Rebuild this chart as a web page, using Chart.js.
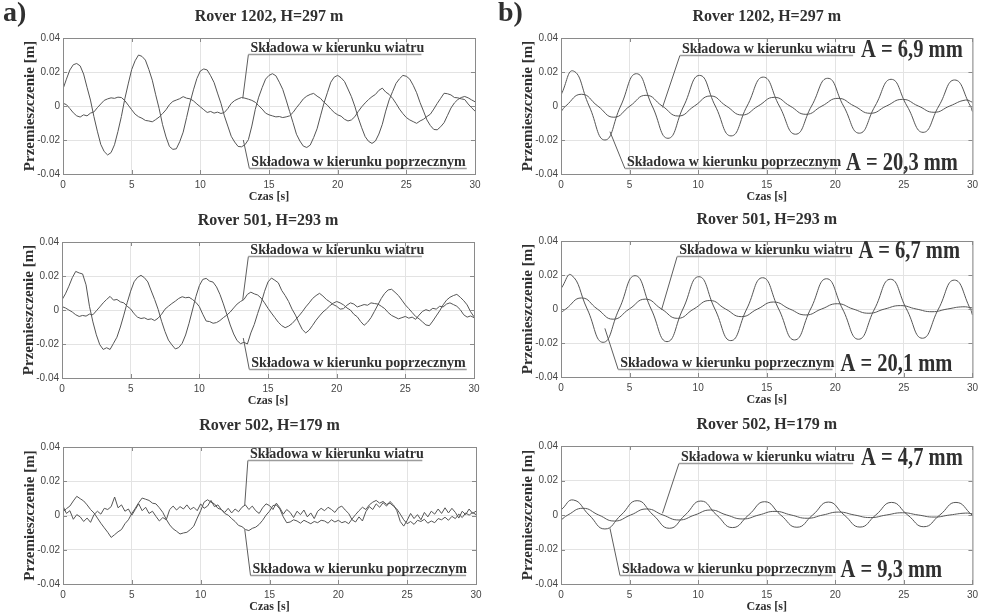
<!DOCTYPE html>
<html>
<head>
<meta charset="utf-8">
<script src="https://cdn.jsdelivr.net/npm/chart.js@4.4.1/dist/chart.umd.min.js"></script>
<style>
  body { margin: 0; background: #fff; width: 983px; height: 614px; position: relative; overflow: hidden; }
  canvas { position: absolute; }
</style>
</head>
<body>
<canvas id="a1"></canvas>
<canvas id="b1"></canvas>
<canvas id="a2"></canvas>
<canvas id="b2"></canvas>
<canvas id="a3"></canvas>
<canvas id="b3"></canvas>
<script>
// axes
const X_TICKS = [0, 5, 10, 15, 20, 25, 30];
const Y_TICKS = [-0.04, -0.02, 0, 0.02, 0.04];
const Y_TICK_LABELS = ['-0.04', '-0.02', '0', '0.02', '0.04'];
const STEP = 0.25; // sampling of the measured records [s]

// a) measured GPS records, one value every STEP seconds
const rover1202Cross = [
  0.0100, 0.0158, 0.0212, 0.0243, 0.0250, 0.0236, 0.0188, 0.0110,
  0.0035, -0.0062, -0.0148, -0.0226, -0.0268, -0.0288, -0.0274, -0.0228,
  -0.0150, -0.0062, 0.0042, 0.0130, 0.0214, 0.0266, 0.0300, 0.0292,
  0.0270, 0.0215, 0.0152, 0.0066, -0.0015, -0.0110, -0.0182, -0.0238,
  -0.0255, -0.0252, -0.0210, -0.0154, -0.0068, 0.0020, 0.0095, 0.0162,
  0.0206, 0.0218, 0.0212, 0.0178, 0.0138, 0.0076, 0.0016, -0.0058,
  -0.0118, -0.0178, -0.0212, -0.0238, -0.0240, -0.0228, -0.0198, -0.0118,
  -0.0020, 0.0052, 0.0108, 0.0158, 0.0180, 0.0190, 0.0178, 0.0140,
  0.0098, 0.0035, -0.0032, -0.0098, -0.0166, -0.0206, -0.0236, -0.0244,
  -0.0230, -0.0186, -0.0134, -0.0058, 0.0016, 0.0078, 0.0140, 0.0170,
  0.0180, 0.0166, 0.0144, 0.0100, 0.0055, -0.0002, -0.0070, -0.0128,
  -0.0180, -0.0208, -0.0220, -0.0206, -0.0165, -0.0108, -0.0030, 0.0036,
  0.0085, 0.0133, 0.0160, 0.0180, 0.0175, 0.0158, 0.0122, 0.0078,
  0.0020, -0.0030, -0.0082, -0.0115, -0.0138, -0.0140, -0.0122, -0.0098,
  -0.0055, -0.0012, 0.0018, 0.0038, 0.0050, 0.0056, 0.0048, 0.0036,
  0.0025
];
const rover1202Wind = [
  0.0016, 0.0008, -0.0015, -0.0040, -0.0058, -0.0065, -0.0052, -0.0058,
  -0.0042, -0.0035, -0.0010, 0.0012, 0.0033, 0.0042, 0.0048, 0.0045,
  0.0052, 0.0050, 0.0032, 0.0005, -0.0022, -0.0048, -0.0063, -0.0072,
  -0.0085, -0.0088, -0.0093, -0.0080, -0.0065, -0.0045, -0.0022, 0.0008,
  0.0027, 0.0035, 0.0043, 0.0055, 0.0046, 0.0042, 0.0030, 0.0012,
  -0.0005, -0.0022, -0.0038, -0.0032, -0.0042, -0.0036, -0.0044, -0.0038,
  -0.0015, 0.0015, 0.0032, 0.0042, 0.0050, 0.0046, 0.0040, 0.0033,
  0.0022, 0.0002, -0.0018, -0.0042, -0.0052, -0.0058, -0.0064, -0.0062,
  -0.0068, -0.0064, -0.0058, -0.0038, -0.0010, 0.0015, 0.0042, 0.0058,
  0.0068, 0.0074, 0.0058, 0.0045, 0.0022, 0.0005, -0.0018, -0.0038,
  -0.0052, -0.0060, -0.0078, -0.0088, -0.0082, -0.0063, -0.0032, -0.0005,
  0.0018, 0.0038, 0.0055, 0.0068, 0.0092, 0.0105, 0.0082, 0.0068,
  0.0045, 0.0015, -0.0018, -0.0045, -0.0068, -0.0082, -0.0092, -0.0102,
  -0.0088, -0.0078, -0.0062, -0.0048, -0.0018, 0.0015, 0.0045, 0.0075,
  0.0072, 0.0065, 0.0050, 0.0048, 0.0042, 0.0038, 0.0012, -0.0010,
  -0.0030
];
const rover501Cross = [
  0.0060, 0.0095, 0.0140, 0.0190, 0.0227, 0.0218, 0.0212, 0.0148,
  0.0022, -0.0070, -0.0146, -0.0204, -0.0232, -0.0222, -0.0232, -0.0196,
  -0.0160, -0.0100, -0.0030, 0.0044, 0.0111, 0.0166, 0.0192, 0.0204,
  0.0190, 0.0165, 0.0112, 0.0061, 0.0004, -0.0066, -0.0127, -0.0177,
  -0.0205, -0.0229, -0.0221, -0.0196, -0.0147, -0.0078, 0.0000, 0.0079,
  0.0143, 0.0180, 0.0186, 0.0170, 0.0164, 0.0136, 0.0092, 0.0036,
  -0.0026, -0.0088, -0.0141, -0.0180, -0.0198, -0.0190, -0.0200, -0.0135,
  -0.0085, -0.0020, 0.0040, 0.0110, 0.0165, 0.0188, 0.0175, 0.0160,
  0.0115, 0.0085, 0.0050, 0.0005, -0.0030, -0.0075, -0.0115, -0.0135,
  -0.0118, -0.0090, -0.0060, -0.0035, -0.0012, 0.0005, 0.0025, 0.0040,
  0.0050, 0.0042, 0.0030, 0.0012, 0.0000, -0.0025, -0.0040, -0.0068,
  -0.0090, -0.0072, -0.0045, -0.0008, 0.0030, 0.0068, 0.0098, 0.0118,
  0.0122, 0.0104, 0.0085, 0.0058, 0.0030, 0.0008, -0.0015, -0.0038,
  -0.0052, -0.0070, -0.0088, -0.0092, -0.0065, -0.0035, -0.0005, 0.0030,
  0.0058, 0.0075, 0.0085, 0.0092, 0.0075, 0.0055, 0.0030, -0.0010,
  -0.0040
];
const rover501Wind = [
  0.0020, 0.0012, 0.0000, -0.0012, -0.0028, -0.0038, -0.0032, -0.0036,
  -0.0024, -0.0028, -0.0005, 0.0018, 0.0042, 0.0062, 0.0080, 0.0058,
  0.0062, 0.0048, 0.0042, 0.0022, 0.0006, -0.0022, -0.0042, -0.0050,
  -0.0046, -0.0056, -0.0052, -0.0062, -0.0048, -0.0025, 0.0005, 0.0022,
  0.0038, 0.0052, 0.0068, 0.0078, 0.0072, 0.0075, 0.0062, 0.0045,
  0.0020, -0.0025, -0.0065, -0.0068, -0.0078, -0.0074, -0.0062, -0.0045,
  -0.0030, -0.0012, 0.0012, 0.0035, 0.0050, 0.0062, 0.0092, 0.0105,
  0.0095, 0.0088, 0.0070, 0.0042, 0.0010, -0.0018, -0.0045, -0.0072,
  -0.0092, -0.0104, -0.0095, -0.0080, -0.0058, -0.0035, -0.0010, 0.0018,
  0.0042, 0.0068, 0.0085, 0.0098, 0.0082, 0.0062, 0.0048, 0.0032,
  0.0022, 0.0005, 0.0008, 0.0028, 0.0042, 0.0035, 0.0018, 0.0025,
  0.0032, 0.0028, 0.0042, 0.0038, 0.0035, 0.0022, 0.0008, -0.0015,
  -0.0032, -0.0042, -0.0052, -0.0045, -0.0038, -0.0048, -0.0042, -0.0055,
  -0.0030, -0.0008, 0.0002, -0.0005, 0.0010, 0.0005, 0.0022, 0.0018,
  0.0035, 0.0042, 0.0032, 0.0022, 0.0002, -0.0028, -0.0042, -0.0035,
  -0.0045
];
const rover502Cross = [
  0.0020, 0.0040, 0.0055, 0.0085, 0.0112, 0.0098, 0.0085, 0.0062,
  0.0035, 0.0015, -0.0015, -0.0045, -0.0072, -0.0098, -0.0128, -0.0112,
  -0.0095, -0.0082, -0.0048, -0.0025, 0.0012, 0.0042, 0.0075, 0.0102,
  0.0095, 0.0088, 0.0072, 0.0068, 0.0045, 0.0018, -0.0022, -0.0055,
  -0.0078, -0.0092, -0.0108, -0.0102, -0.0098, -0.0082, -0.0062, -0.0015,
  0.0028, 0.0078, 0.0092, 0.0078, 0.0068, 0.0042, 0.0035, 0.0012,
  0.0002, -0.0018, -0.0035, -0.0058, -0.0065, -0.0082, -0.0088, -0.0075,
  -0.0068, -0.0052, -0.0028, 0.0002, 0.0025, 0.0058, 0.0062, 0.0038,
  -0.0008, -0.0042, -0.0038, -0.0025, -0.0032, -0.0045, -0.0028, -0.0038,
  -0.0048, -0.0035, -0.0042, -0.0028, -0.0032, -0.0045, -0.0025, -0.0038,
  -0.0028, -0.0042, -0.0035, -0.0048, -0.0020, 0.0005, 0.0028, 0.0048,
  0.0035, 0.0062, 0.0078, 0.0088, 0.0072, 0.0082, 0.0065, 0.0072,
  0.0055, 0.0038, 0.0008, -0.0025, -0.0048, -0.0035, -0.0052, -0.0028,
  -0.0035, -0.0022, -0.0045, -0.0032, -0.0042, -0.0018, -0.0025, -0.0010,
  -0.0028, -0.0005, -0.0018, 0.0008, -0.0012, 0.0015, 0.0002, 0.0018,
  0.0005
];
const rover502Wind = [
  0.0055, 0.0012, 0.0028, -0.0022, 0.0005, -0.0008, -0.0035, -0.0015,
  -0.0040, 0.0005, 0.0025, 0.0008, 0.0042, 0.0035, 0.0052, 0.0108,
  0.0045, 0.0062, 0.0025, 0.0038, 0.0002, 0.0035, 0.0068, 0.0028,
  0.0048, 0.0012, 0.0025, -0.0005, -0.0032, -0.0012, -0.0025, 0.0035,
  0.0055, 0.0032, 0.0052, 0.0038, 0.0062, 0.0035, 0.0048, 0.0028,
  0.0068, 0.0042, 0.0055, 0.0088, 0.0052, 0.0062, 0.0035, 0.0018,
  0.0042, 0.0015, 0.0038, 0.0022, 0.0048, 0.0062, 0.0035, 0.0055,
  0.0028, 0.0012, 0.0045, 0.0068, 0.0058, 0.0035, 0.0072, 0.0045,
  0.0008, 0.0035, 0.0018, -0.0012, 0.0025, 0.0005, 0.0032, -0.0008,
  0.0015, -0.0018, 0.0025, 0.0042, 0.0028, 0.0048, 0.0035, 0.0018,
  0.0045, 0.0055, 0.0032, 0.0012, -0.0025, -0.0038, -0.0008, -0.0032,
  0.0022, 0.0052, 0.0035, 0.0068, 0.0048, 0.0075, 0.0055, 0.0082,
  0.0062, 0.0028, -0.0035, -0.0062, -0.0028, 0.0012, -0.0018, 0.0005,
  -0.0025, 0.0018, -0.0008, 0.0025, 0.0008, 0.0038, 0.0012, 0.0045,
  0.0015, 0.0042, 0.0018, -0.0015, 0.0025, 0.0005, 0.0038, 0.0012,
  0.0025
];

// b) fitted harmonic components: times [s] of extrema and zero crossings, values [m]
const fit1202CrossT = [0, 0.9, 2.05, 3.2, 4.35, 5.5, 6.65, 7.8, 8.95, 10.1, 11.25, 12.4, 13.57, 14.75, 15.92, 17.1, 18.27, 19.45, 20.6, 21.75, 22.9, 24.07, 25.23, 26.4, 27.55, 28.7, 29.85, 30];
const fit1202Cross = [0.0065, 0.0206, 0, -0.0200, 0, 0.0190, 0, -0.0190, 0, 0.0180, 0, -0.0176, 0, 0.0170, 0, -0.0166, 0, 0.0163, 0, -0.0160, 0, 0.0157, 0, -0.0155, 0, 0.0153, 0, -0.0033];
const fit1202WindT = [0, 0.35, 1.5, 2.68, 3.85, 5.03, 6.2, 7.38, 8.55, 9.73, 10.9, 12.05, 13.2, 14.38, 15.55, 16.7, 17.85, 19.03, 20.2, 21.38, 22.55, 23.73, 24.9, 26.05, 27.2, 28.35, 29.5, 30];
const fit1202Wind = [-0.0033, 0, 0.0069, 0, -0.0066, 0, 0.0063, 0, -0.0059, 0, 0.0059, 0, -0.0053, 0, 0.0051, 0, -0.0049, 0, 0.0045, 0, -0.0043, 0, 0.0039, 0, -0.0037, 0, 0.0035, 0.0022];
const fit501CrossT = [0, 0.75, 1.91, 3.07, 4.24, 5.4, 6.57, 7.73, 8.89, 10.05, 11.22, 12.38, 13.54, 14.7, 15.87, 17.03, 18.2, 19.36, 20.53, 21.69, 22.86, 24.02, 25.19, 26.35, 27.52, 28.68, 29.85, 30];
const fit501Cross = [0.0120, 0.0200, 0, -0.0196, 0, 0.0196, 0, -0.0192, 0, 0.0190, 0, -0.0186, 0, 0.0184, 0, -0.0182, 0, 0.0178, 0, -0.0178, 0, 0.0175, 0, -0.0172, 0, 0.0170, 0, -0.0035];
const fit501WindT = [0, 0.35, 1.5, 2.65, 3.8, 4.98, 6.15, 7.33, 8.5, 9.68, 10.85, 12.0, 13.15, 14.33, 15.5, 16.68, 17.85, 19.0, 20.15, 21.3, 22.45, 23.6, 24.75, 25.9, 27.05, 28.18, 29.3, 30];
const fit501Wind = [-0.0022, 0, 0.0065, 0, -0.0060, 0, 0.0058, 0, -0.0055, 0, 0.0050, 0, -0.0045, 0, 0.0041, 0, -0.0035, 0, 0.0031, 0, -0.0025, 0, 0.0020, 0, -0.0016, 0, 0.0013, 0.0006];
const fit502CrossT = [0, 0.9, 2.05, 3.2, 4.38, 5.55, 6.72, 7.9, 9.05, 10.2, 11.35, 12.5, 13.68, 14.85, 16.02, 17.2, 18.35, 19.5, 20.65, 21.8, 22.95, 24.1, 25.28, 26.45, 27.62, 28.8, 30];
const fit502Cross = [0.0029, 0.0087, 0, -0.0081, 0, 0.0083, 0, -0.0077, 0, 0.0081, 0, -0.0073, 0, 0.0077, 0, -0.0071, 0, 0.0075, 0, -0.0070, 0, 0.0073, 0, -0.0068, 0, 0.0073, -0.0002];
const fit502WindT = [0, 0.5, 1.6, 2.75, 3.9, 5.08, 6.25, 7.43, 8.6, 9.75, 10.9, 12.08, 13.25, 14.43, 15.6, 16.78, 17.95, 19.1, 20.25, 21.4, 22.55, 23.73, 24.9, 26.05, 27.2, 28.35, 29.5, 30];
const fit502Wind = [-0.0029, 0, 0.0039, 0, -0.0035, 0, 0.0035, 0, -0.0029, 0, 0.0029, 0, -0.0023, 0, 0.0021, 0, -0.0019, 0, 0.0017, 0, -0.0015, 0, 0.0013, 0, -0.0012, 0, 0.0011, 0.0007];

const WIND_LABEL = 'Składowa w kierunku wiatru';
const CROSS_LABEL = 'Składowa w kierunku poprzecznym';

const SERIF = '"Liberation Serif", "Times New Roman", serif';
const SANS = '"Liberation Sans", Arial, sans-serif';
const INK = '#303030';
const LINE = '#555555';
const Y_AXIS_W = 40;

const measured = values => values.map((v, i) => ({ x: i * STEP, y: v }));
const fitted = (times, values) => times.map((t, i) => ({ x: t, y: values[i] }));

// leader notes: tip on the curve, knee where the underline starts, end of underline (all in data units)
const panels = [
  { id: 'a1', left: 0, top: 0, width: 490, height: 205, area: { left: 63, top: 38, right: 475, bottom: 174 },
    tag: 'a)', title: 'Rover 1202, H=297 m', smooth: 0,
    series: [measured(rover1202Cross), measured(rover1202Wind)],
    wind: { tip: [13.09, 0.0045], knee: [13.5, 0.0306], end: 26.1 },
    cross: { tip: [13.13, -0.020], knee: [13.57, -0.0367], end: 29.4 } },
  { id: 'b1', left: 490, top: 0, width: 493, height: 205, area: { left: 71, top: 38, right: 483, bottom: 174 },
    tag: 'b)', title: 'Rover 1202, H=297 m', smooth: 0.5,
    series: [fitted(fit1202CrossT, fit1202Cross), fitted(fit1202WindT, fit1202Wind)],
    wind: { tip: [7.4, -0.0008], knee: [8.67, 0.030], end: 21.3, amp: 'A = 6,9 mm' },
    cross: { tip: [3.57, -0.0151], knee: [4.66, -0.0367], end: 20.2, amp: 'A = 20,3 mm' } },
  { id: 'a2', left: 0, top: 205, width: 490, height: 205, area: { left: 62, top: 37, right: 474, bottom: 173 },
    title: 'Rover 501, H=293 m', smooth: 0,
    series: [measured(rover501Cross), measured(rover501Wind)],
    wind: { tip: [13.16, 0.006], knee: [13.57, 0.0318], end: 26.2 },
    cross: { tip: [13.2, -0.0165], knee: [13.64, -0.0349], end: 29.47 } },
  { id: 'b2', left: 490, top: 205, width: 493, height: 205, area: { left: 71, top: 36, right: 483, bottom: 172 },
    title: 'Rover 501, H=293 m', smooth: 0.5,
    series: [fitted(fit501CrossT, fit501Cross), fitted(fit501WindT, fit501Wind)],
    wind: { tip: [7.33, -0.0005], knee: [8.47, 0.0312], end: 21.1, amp: 'A = 6,7 mm' },
    cross: { tip: [3.2, -0.0114], knee: [4.17, -0.0355], end: 19.8, amp: 'A = 20,1 mm' } },
  { id: 'a3', left: 0, top: 410, width: 490, height: 204, area: { left: 63, top: 37, right: 476, bottom: 174 },
    title: 'Rover 502, H=179 m', smooth: 0,
    series: [measured(rover502Cross), measured(rover502Wind)],
    wind: { tip: [13.2, 0.0061], knee: [13.43, 0.0324], end: 26.1 },
    cross: { tip: [13.2, -0.0081], knee: [13.62, -0.0347], end: 29.28 } },
  { id: 'b3', left: 490, top: 410, width: 493, height: 204, area: { left: 71, top: 36, right: 483, bottom: 174 },
    title: 'Rover 502, H=179 m', smooth: 0.5,
    series: [fitted(fit502CrossT, fit502Cross), fitted(fit502WindT, fit502Wind)],
    wind: { tip: [7.4, 0.001], knee: [8.6, 0.030], end: 21.3, amp: 'A = 4,7 mm' },
    cross: { tip: [3.57, -0.0077], knee: [4.3, -0.0348], end: 19.8, amp: 'A = 9,3 mm' } }
];

function drawNote(ctx, x, y, note, label) {
  const tx = x.getPixelForValue(note.tip[0]), ty = y.getPixelForValue(note.tip[1]);
  const kx = x.getPixelForValue(note.knee[0]), ky = Math.round(y.getPixelForValue(note.knee[1])) + 0.5;
  const ex = x.getPixelForValue(note.end);
  ctx.strokeStyle = '#5e5e5e';
  ctx.lineWidth = 1;
  ctx.beginPath(); ctx.moveTo(tx, ty); ctx.lineTo(kx, ky); ctx.stroke();
  ctx.strokeStyle = '#9c9c9c';
  ctx.lineWidth = 1.6;
  ctx.beginPath(); ctx.moveTo(kx, ky); ctx.lineTo(ex, ky); ctx.stroke();
  ctx.fillStyle = INK;
  ctx.textAlign = 'left';
  ctx.textBaseline = 'alphabetic';
  ctx.font = 'bold 14px ' + SERIF;
  ctx.fillText(label, kx + 2, ky - 3);
  if (note.amp) {
    ctx.save();
    ctx.translate(ex + 8, ky + 1);
    ctx.scale(0.82, 1);
    ctx.font = 'bold 25px ' + SERIF;
    ctx.fillText(note.amp, 0, 0);
    ctx.restore();
  }
}

const figurePlugin = {
  id: 'figure',
  afterDatasetsDraw(chart, args, opts) {
    const p = opts.panel;
    const { ctx, chartArea: a, scales: { x, y } } = chart;
    ctx.save();
    // frame and inward ticks
    ctx.strokeStyle = '#8a8a8a';
    ctx.lineWidth = 1;
    ctx.strokeRect(a.left + 0.5, a.top + 0.5, a.right - a.left, a.bottom - a.top);
    ctx.beginPath();
    X_TICKS.forEach(v => {
      const px = Math.round(x.getPixelForValue(v)) + 0.5;
      ctx.moveTo(px, a.bottom); ctx.lineTo(px, a.bottom - 4);
      ctx.moveTo(px, a.top); ctx.lineTo(px, a.top + 4);
    });
    Y_TICKS.forEach(v => {
      const py = Math.round(y.getPixelForValue(v)) + 0.5;
      ctx.moveTo(a.left, py); ctx.lineTo(a.left + 4, py);
      ctx.moveTo(a.right, py); ctx.lineTo(a.right - 4, py);
    });
    ctx.stroke();

    drawNote(ctx, x, y, p.wind, WIND_LABEL);
    drawNote(ctx, x, y, p.cross, CROSS_LABEL);

    // titles
    const mid = (a.left + a.right) / 2;
    ctx.fillStyle = INK;
    ctx.textAlign = 'center';
    ctx.textBaseline = 'alphabetic';
    ctx.font = 'bold 16px ' + SERIF;
    ctx.fillText(p.title, mid, a.top - 17);
    ctx.font = 'bold 12px ' + SERIF;
    ctx.textBaseline = 'middle';
    ctx.fillText('Czas [s]', mid, a.bottom + 23);
    ctx.save();
    ctx.translate(a.left - 33, (a.top + a.bottom) / 2);
    ctx.rotate(-Math.PI / 2);
    ctx.font = 'bold 15px ' + SERIF;
    ctx.fillText('Przemieszczenie [m]', 0, 0);
    ctx.restore();
    if (p.tag) {
      ctx.textAlign = 'left';
      ctx.textBaseline = 'alphabetic';
      ctx.font = 'bold 28px ' + SERIF;
      ctx.fillText(p.tag, p.left === 0 ? 3 : 8, 21);
    }
    ctx.restore();
  }
};

panels.forEach(p => {
  const canvas = document.getElementById(p.id);
  canvas.width = p.width;
  canvas.height = p.height;
  canvas.style.left = p.left + 'px';
  canvas.style.top = p.top + 'px';
  new Chart(canvas, {
    type: 'line',
    data: {
      datasets: p.series.map(points => ({
        data: points,
        borderColor: LINE,
        borderWidth: 1,
        pointRadius: 0,
        fill: false,
        tension: p.smooth
      }))
    },
    options: {
      responsive: false,
      animation: false,
      devicePixelRatio: 1,
      layout: { padding: { left: p.area.left - Y_AXIS_W, top: p.area.top, right: p.width - p.area.right, bottom: 0 } },
      plugins: {
        legend: { display: false },
        tooltip: { enabled: false },
        figure: { panel: p }
      },
      scales: {
        x: {
          type: 'linear', min: 0, max: 30,
          afterBuildTicks: s => { s.ticks = X_TICKS.map(value => ({ value })); },
          afterFit: s => { s.height = p.height - p.area.bottom; },
          grid: { color: '#e3e3e3', drawTicks: false },
          border: { display: false },
          ticks: { padding: 5, maxRotation: 0, color: '#454545', font: { family: SANS, size: 10 }, callback: v => String(v) }
        },
        y: {
          type: 'linear', min: -0.04, max: 0.04,
          afterBuildTicks: s => { s.ticks = Y_TICKS.map(value => ({ value })); },
          afterFit: s => { s.width = Y_AXIS_W; },
          grid: { color: '#e3e3e3', drawTicks: false },
          border: { display: false },
          ticks: {
            padding: 3, color: '#454545', font: { family: SANS, size: 10 },
            callback: v => Y_TICK_LABELS[Y_TICKS.findIndex(t => Math.abs(t - v) < 1e-9)]
          }
        }
      }
    },
    plugins: [figurePlugin]
  });
});
</script>
</body>
</html>
